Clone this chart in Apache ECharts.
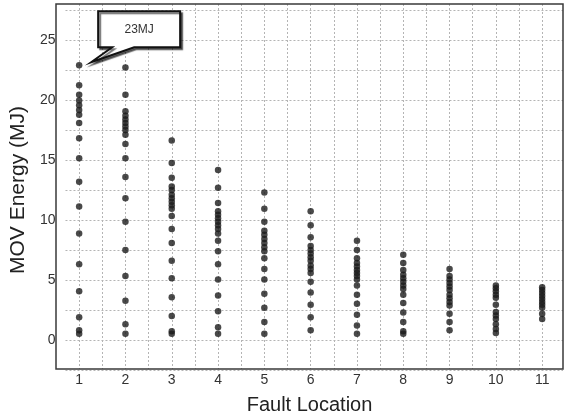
<!DOCTYPE html>
<html>
<head>
<meta charset="utf-8">
<script src="https://cdn.jsdelivr.net/npm/echarts@6/dist/echarts.min.js"></script>
<style>html,body{margin:0;padding:0;background:#fff}#c{width:566px;height:420px}</style>
</head>
<body>
<div id="c"></div>
<script>
const faultLocations = [1, 2, 3, 4, 5, 6, 7, 8, 9, 10, 11];
const energyLoc1 = [22.8, 21.1, 20.3, 19.8, 19.4, 19.0, 18.6, 17.9, 16.6, 14.9, 12.9, 10.8, 8.5, 5.9, 3.6, 1.4, 0.3, 0];
const energyLoc2 = [22.6, 20.3, 18.9, 18.5, 18.2, 17.9, 17.6, 17.3, 16.9, 16.1, 14.9, 13.3, 11.5, 9.5, 7.1, 4.9, 2.8, 0.8, 0];
const energyLoc3 = [16.4, 14.5, 13.25, 12.5, 12.2, 11.8, 11.5, 11.2, 10.9, 10.6, 10.0, 8.9, 7.7, 6.2, 4.7, 3.1, 1.5, 0.2, 0];
const energyLoc4 = [13.9, 12.4, 11.1, 10.4, 10.1, 9.8, 9.5, 9.2, 8.9, 8.5, 7.9, 7.0, 5.9, 4.6, 3.25, 1.9, 0.55, 0];
const energyLoc5 = [12.0, 10.6, 9.5, 8.75, 8.4, 8.05, 7.7, 7.35, 7.0, 6.4, 5.5, 4.6, 3.4, 2.2, 1.0, 0];
const energyLoc6 = [10.4, 9.2, 8.2, 7.45, 7.1, 6.8, 6.5, 6.2, 5.8, 5.5, 5.15, 4.4, 3.5, 2.45, 1.4, 0.3];
const energyLoc7 = [7.9, 7.1, 6.4, 6.0, 5.7, 5.4, 5.15, 4.9, 4.6, 4.1, 3.3, 2.55, 1.6, 0.7, 0];
const energyLoc8 = [6.7, 6.0, 5.4, 5.0, 4.7, 4.4, 4.1, 3.8, 3.3, 2.6, 1.8, 1.0, 0.2, 0];
const energyLoc9 = [5.5, 4.9, 4.6, 4.3, 4.0, 3.7, 3.3, 3.0, 2.7, 2.4, 1.7, 1.0, 0.3];
const energyLoc10 = [4.1, 3.85, 3.6, 3.3, 3.05, 2.45, 1.85, 1.55, 1.25, 0.8, 0.4, 0.05];
const energyLoc11 = [3.95, 3.7, 3.45, 3.2, 2.95, 2.7, 2.45, 2.2, 1.7, 1.25];
const yTickLabels = [0, 5, 10, 15, 20, 25];
const calloutText = '23MJ';

const allEnergy = [energyLoc1, energyLoc2, energyLoc3, energyLoc4, energyLoc5, energyLoc6,
  energyLoc7, energyLoc8, energyLoc9, energyLoc10, energyLoc11];
const points = [];
faultLocations.forEach((loc, i) => allEnergy[i].forEach(v => points.push([loc, v])));

const FONT = '"Liberation Sans", Arial, sans-serif';
const gridLine = { show: true, lineStyle: { color: '#b4b4b4', type: [2, 2], width: 1 } };

const chart = echarts.init(document.getElementById('c'), null, { renderer: 'canvas' });
chart.setOption({
  animation: false,
  backgroundColor: '#fff',
  grid: [
    { left: 56, right: 3, top: 4, bottom: 44, show: true, borderColor: '#3a3a3a', borderWidth: 1.5, backgroundColor: 'transparent', z: 3 },
    { left: 56, right: 3, top: 10, bottom: 50 }
  ],
  xAxis: [
    {
      gridIndex: 0, type: 'value', min: 0.5, max: 11.45, interval: 0.5,
      axisLine: { show: false }, axisTick: { show: false },
      splitLine: Object.assign({ showMinLine: false, showMaxLine: false }, gridLine),
      axisLabel: {
        margin: 4, color: '#333', fontSize: 14, fontFamily: FONT,
        formatter: v => (Number.isInteger(v) && faultLocations.includes(v)) ? String(v) : ''
      },
      name: 'Fault Location', nameLocation: 'middle', nameGap: 26,
      nameTextStyle: { color: '#222', fontSize: 20, fontFamily: FONT }
    },
    { gridIndex: 1, type: 'value', min: 0.5, max: 11.45, show: false }
  ],
  yAxis: [
    { gridIndex: 0, type: 'value', min: -3, max: 28, show: false, splitLine: { show: false } },
    {
      gridIndex: 1, type: 'value', min: -2.5, max: 27.5, interval: 2.5,
      axisLine: { show: false }, axisTick: { show: false },
      splitLine: gridLine,
      axisLabel: {
        margin: 10, color: '#333', fontSize: 14, fontFamily: FONT,
        formatter: v => yTickLabels.includes(v) ? String(v) : ''
      },
      name: 'MOV Energy (MJ)', nameLocation: 'middle', nameGap: 25,
      nameTextStyle: { color: '#222', fontSize: 21, fontFamily: FONT }
    }
  ],
  series: [{
    type: 'scatter', xAxisIndex: 0, yAxisIndex: 0,
    data: points, symbolSize: 6.5,
    itemStyle: { color: '#1c1c1c' }, z: 5
  }]
});

// Callout anchored to the top point at location 1
const anchor = chart.convertToPixel({ xAxisIndex: 0, yAxisIndex: 0 }, [faultLocations[0], Math.max(...energyLoc1)]);
const tx = anchor[0] + 12, ty = anchor[1] - 3;
const bl = tx + 7, br = tx + 89, bt = ty - 51, bb = ty - 15;
chart.setOption({
  graphic: [
    {
      type: 'polygon', z: 100,
      shape: { points: [[bl, bt], [br, bt], [br, bb], [tx + 43, bb], [tx, ty], [tx + 21, bb], [bl, bb]] },
      style: { fill: '#fff', stroke: '#111', lineWidth: 2, shadowColor: 'rgba(0,0,0,0.55)', shadowOffsetX: 2, shadowOffsetY: 2, shadowBlur: 1 }
    },
    {
      type: 'text', z: 101, x: (bl + br) / 2, y: (bt + bb) / 2,
      style: { text: calloutText, fill: '#333', font: '12px "Liberation Sans Narrow", "Liberation Sans", sans-serif', align: 'center', verticalAlign: 'middle' }
    }
  ]
});
</script>
</body>
</html>
